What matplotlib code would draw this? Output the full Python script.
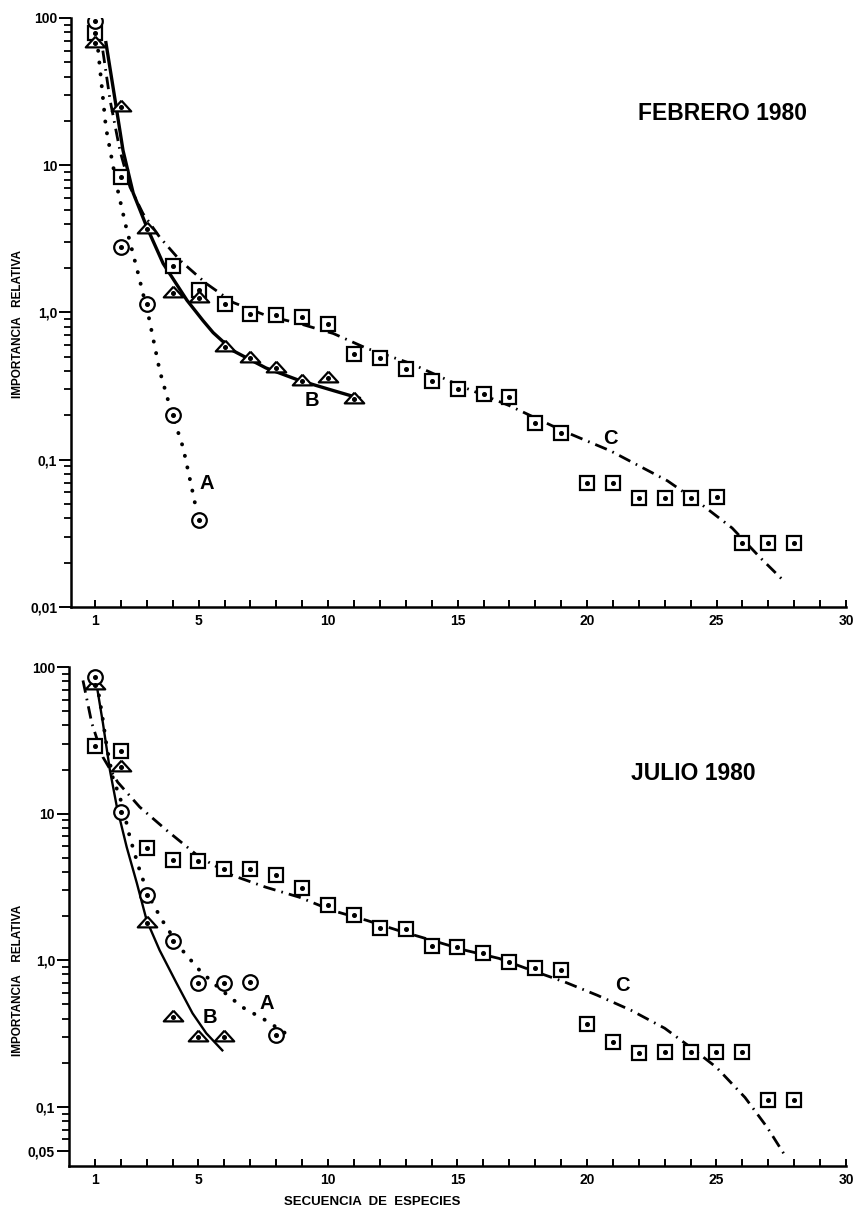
import matplotlib
matplotlib.use("Agg")
import matplotlib.pyplot as plt
from matplotlib.ticker import FixedLocator, NullFormatter

plt.rcParams["font.family"] = ["Liberation Sans", "DejaVu Sans"]
plt.rcParams["font.weight"] = "bold"

# ---------------- data ----------------

# FEBRERO 1980
feb_rank_a = [1, 2, 3, 4, 5]
feb_a = [95, 2.8, 1.15, 0.2, 0.039]
feb_rank_b = [1, 2, 3, 4, 5, 6, 7, 8, 9, 10, 11]
feb_b = [68, 25, 3.7, 1.35, 1.25, 0.58, 0.49, 0.42, 0.345, 0.36, 0.26]
feb_rank_c = [1, 2] + list(range(4, 29))
feb_c = [79, 8.3, 2.06, 1.43, 1.15, 0.98, 0.955, 0.925, 0.84, 0.52, 0.49,
         0.416, 0.34, 0.30, 0.281, 0.268, 0.179, 0.153, 0.069, 0.069,
         0.055, 0.055, 0.055, 0.056, 0.0272, 0.027, 0.027]

# fitted curves, February
feb_a_curve_x = [1.12, 1.42, 1.85, 2.2, 2.66, 3.08, 3.5, 3.9, 4.4, 4.73, 4.92]
feb_a_curve_y = [60, 18, 7.1, 3.8, 1.85, 0.92, 0.40, 0.226, 0.121, 0.065, 0.045]
feb_b_curve_x = [1.42, 1.77, 2.08, 2.47, 3.0, 3.63, 4.55, 5.17, 5.56, 6.33,
                 7.6, 8.9, 10.2, 11.2]
feb_b_curve_y = [68, 28, 12.6, 6.5, 3.8, 2.15, 1.21, 0.88, 0.73, 0.55,
                 0.42, 0.345, 0.295, 0.262]
feb_c_curve_x = [1.3, 1.58, 1.96, 2.35, 2.85, 3.5, 4.28, 5.3, 6.33, 7.6, 8.9,
                 10.2, 11.5, 13.2, 15.1, 17.0, 19.07, 20.9, 23.1, 24.4, 25.6,
                 26.7, 27.6]
feb_c_curve_y = [60, 27.7, 12.6, 7.1, 4.7, 3.24, 2.26, 1.57, 1.17, 0.955, 0.84,
                 0.72, 0.57, 0.45, 0.318, 0.233, 0.157, 0.115, 0.072, 0.050,
                 0.0344, 0.0215, 0.015]

# JULIO 1980
jul_rank_a = [1, 2, 3, 4, 5, 6, 7, 8]
jul_a = [85, 10.3, 2.8, 1.35, 0.70, 0.70, 0.71, 0.31]
jul_rank_b = [1, 2, 3, 4, 5, 6]
jul_b = [76, 20.8, 1.8, 0.41, 0.30, 0.30]
jul_rank_c = list(range(1, 29))
jul_c = [29, 26.7, 5.8, 4.8, 4.75, 4.18, 4.18, 3.8, 3.1, 2.37, 2.03, 1.65,
         1.63, 1.25, 1.24, 1.12, 0.97, 0.88, 0.855, 0.366, 0.275, 0.232,
         0.235, 0.237, 0.235, 0.237, 0.112, 0.112]

# fitted curves, July
jul_a_curve_x = [1.08, 1.27, 1.46, 1.69, 2.04, 2.35, 2.73, 3.1, 3.6, 4.27,
                 5.04, 5.8, 6.7, 7.6, 8.6]
jul_a_curve_y = [77, 48.5, 28.5, 17.7, 11.8, 6.9, 4.1, 2.69, 1.87, 1.23,
                 0.855, 0.644, 0.478, 0.389, 0.298]
jul_b_curve_x = [1.04, 1.31, 1.58, 1.85, 2.23, 2.62, 3.0, 3.5, 4.15, 4.77,
                 5.3, 5.92]
jul_b_curve_y = [81, 41.5, 19.8, 11.1, 5.9, 3.36, 1.87, 1.17, 0.70, 0.435,
                 0.318, 0.243]
jul_c_curve_x = [0.54, 0.88, 1.31, 1.88, 2.73, 3.77, 5.04, 6.3, 7.6, 8.9,
                 10.15, 11.5, 12.7, 14.0, 15.3, 16.6, 17.85, 19.15, 20.4,
                 21.7, 23.0, 24.0, 25.0, 26.1, 26.96, 27.7]
jul_c_curve_y = [81, 41.5, 24.3, 16.4, 11.1, 7.7, 5.05, 3.8, 3.15, 2.69,
                 2.19, 1.87, 1.6, 1.37, 1.17, 1.03, 0.855, 0.71, 0.577,
                 0.456, 0.344, 0.255, 0.186, 0.116, 0.0724, 0.045]

x_ticks = [1, 5, 10, 15, 20, 25, 30]
feb_yticks = [0.01, 0.1, 1, 10, 100]
feb_ylabels = ["0,01", "0,1", "1,0", "10", "100"]
jul_yticks = [0.05, 0.1, 1, 10, 100]
jul_ylabels = ["0,05", "0,1", "1,0", "10", "100"]

# ---------------- styles ----------------

TRI = [(0, 0.7), (-1, -0.4), (1, -0.4), (0, 0.7)]
DOTTED = (0, (0.05, 3.0))
DASHDOT = (0, (4.5, 2.2, 0.6, 2.2))


def draw_points(ax, xs, ys, marker, ms):
    ax.plot(xs, ys, ls="none", marker=marker, ms=ms, mfc="white",
            mec="black", mew=1.6, zorder=4)
    ax.plot(xs, ys, ls="none", marker="o", ms=2.6, color="black", zorder=5)


def style_axis(ax, ylo, yticks, ylabels):
    ax.set_yscale("log")
    ax.set_xlim(ax.get_xlim()[0], 30)
    ax.set_ylim(ylo, 100)
    for s in ("top", "right"):
        ax.spines[s].set_visible(False)
    for s in ("left", "bottom"):
        ax.spines[s].set_linewidth(1.8)
    ax.set_xticks(x_ticks)
    ax.set_xticklabels([str(t) for t in x_ticks])
    ax.xaxis.set_minor_locator(FixedLocator(range(1, 31)))
    ax.tick_params(axis="x", which="both", direction="in", length=5, width=1.4,
                   labelsize=10, pad=5)
    ax.set_yticks(yticks)
    ax.set_yticklabels(ylabels)
    minors = [m * 10.0 ** e for e in (-2, -1, 0, 1) for m in range(2, 10)]
    minors = [v for v in minors if v > ylo * 1.05 and v not in yticks]
    ax.yaxis.set_minor_locator(FixedLocator(minors))
    ax.yaxis.set_minor_formatter(NullFormatter())
    ax.tick_params(axis="y", which="major", direction="out", length=9,
                   width=1.4, labelsize=10, pad=1)
    ax.tick_params(axis="y", which="minor", direction="out", length=5,
                   width=1.3)
    for lab in ax.get_xticklabels() + ax.get_yticklabels():
        lab.set_fontweight("bold")


fig = plt.figure(figsize=(8.58, 12.15), dpi=100)

# ---------------- FEBRERO ----------------
ax1 = fig.add_axes([0.0828, 0.5004, 0.9033, 0.4848])
ax1.set_xlim(0.073, 30)
ax1.plot(feb_a_curve_x, feb_a_curve_y, color="black", lw=2.8, ls=DOTTED,
         dash_capstyle="round", zorder=3)
ax1.plot(feb_b_curve_x, feb_b_curve_y, color="black", lw=2.4, zorder=3)
ax1.plot(feb_c_curve_x, feb_c_curve_y, color="black", lw=2.0, ls=DASHDOT,
         zorder=3)
draw_points(ax1, feb_rank_c, feb_c, "s", 9.5)
draw_points(ax1, feb_rank_b, feb_b, TRI, 14)
draw_points(ax1, feb_rank_a, feb_a, "o", 10.5)
style_axis(ax1, 0.01, feb_yticks, feb_ylabels)
ax1.text(5.32, 0.0687, "A", fontsize=14.5, fontweight="bold", ha="center", va="center")
ax1.text(9.38, 0.252, "B", fontsize=14.5, fontweight="bold", ha="center", va="center")
ax1.text(20.88, 0.139, "C", fontsize=14.5, fontweight="bold", ha="center", va="center")

# ---------------- JULIO ----------------
ax2 = fig.add_axes([0.0804, 0.0403, 0.9056, 0.4107])
ax2.set_xlim(0.0, 30)
ax2.plot(jul_a_curve_x, jul_a_curve_y, color="black", lw=2.8, ls=DOTTED,
         dash_capstyle="round", zorder=3)
ax2.plot(jul_b_curve_x, jul_b_curve_y, color="black", lw=1.7, zorder=3)
ax2.plot(jul_c_curve_x, jul_c_curve_y, color="black", lw=2.0, ls=DASHDOT,
         zorder=3)
draw_points(ax2, jul_rank_c, jul_c, "s", 9.5)
draw_points(ax2, jul_rank_b, jul_b, TRI, 14)
draw_points(ax2, jul_rank_a, jul_a, "o", 10.5)
style_axis(ax2, 0.0395, jul_yticks, jul_ylabels)
ax2.text(7.64, 0.508, "A", fontsize=14.5, fontweight="bold", ha="center", va="center")
ax2.text(5.44, 0.408, "B", fontsize=14.5, fontweight="bold", ha="center", va="center")
ax2.text(21.35, 0.675, "C", fontsize=14.5, fontweight="bold", ha="center", va="center")

# ---------------- titles / axis labels ----------------
fig.text(722 / 858, 1 - 113 / 1215, "FEBRERO 1980", fontsize=16.5,
         fontweight="bold", ha="center", va="center")
fig.text(693 / 858, 1 - 773 / 1215, "JULIO 1980", fontsize=16.5,
         fontweight="bold", ha="center", va="center")
fig.text(18 / 858, 1 - 324 / 1215, "IMPORTANCIA   RELATIVA", fontsize=8.5,
         fontweight="bold", rotation=90, ha="center", va="center")
fig.text(18 / 858, 1 - 980 / 1215, "IMPORTANCIA    RELATIVA", fontsize=8.5,
         fontweight="bold", rotation=90, ha="center", va="center")
fig.text(372 / 858, 1 - 1202 / 1215, "SECUENCIA  DE  ESPECIES", fontsize=9.5,
         fontweight="bold", ha="center", va="center")

fig.savefig("out.png", dpi=100)
